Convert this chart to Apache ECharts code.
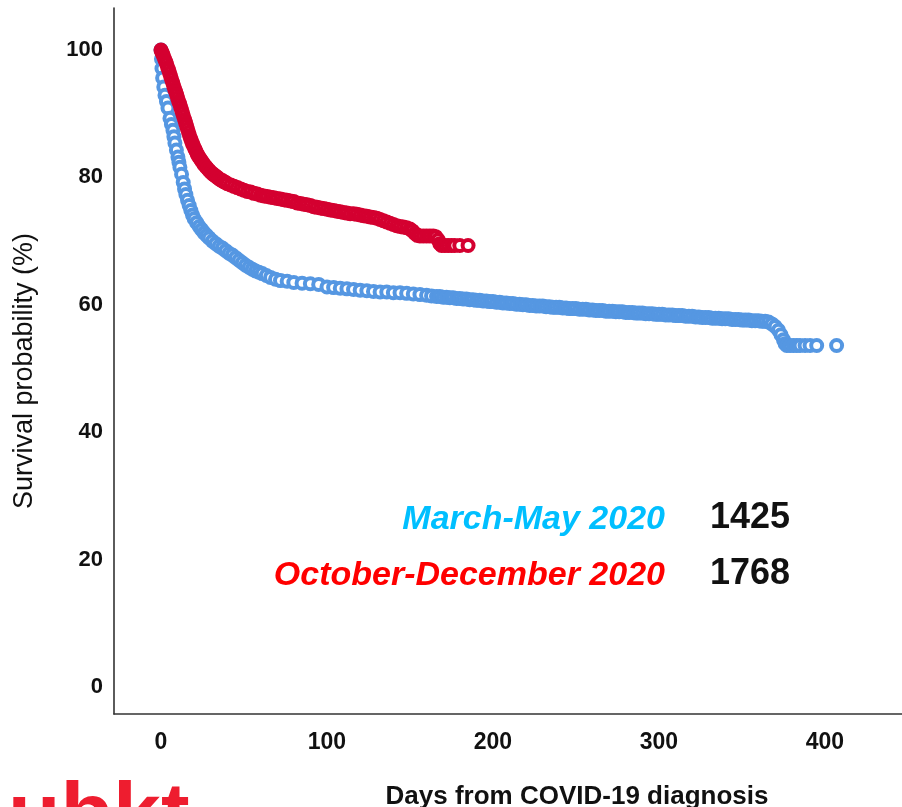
<!DOCTYPE html>
<html>
<head>
<meta charset="utf-8">
<script src="https://cdn.jsdelivr.net/npm/echarts@6/dist/echarts.min.js"></script>
<style>
  html, body { margin: 0; padding: 0; background: #fff; }
  #chart { width: 902px; height: 807px; }
</style>
</head>
<body>
<div id="chart"></div>
<script>
// tick labels
var xTicks = [0, 100, 200, 300, 400]
var yTicks = [0, 20, 40, 60, 80, 100]

// March-May 2020 (days, survival %)
var springDays = [0, 0.3, 0.6, 1, 1.7, 2.4, 3.3, 4.2, 5.4, 6.3, 7.2, 7.8, 8.4, 9.3, 10.2, 10.8, 11.4, 12.4, 13.4, 14.2,
  15, 16, 17, 18, 19, 20, 21.5, 23, 24.5, 26, 27.5, 29, 31, 33, 35, 37, 39, 41, 43, 45,
  47, 49, 51, 53, 55, 57, 59, 61, 63.5, 66, 69, 72, 76, 80, 85, 90, 95, 100, 104, 108,
  112, 116, 120, 124, 128, 132, 136, 140, 144, 148, 152, 156, 160, 163,
  166, 168, 170, 172, 174, 176, 178, 180, 182, 184, 186, 188, 190, 192, 194, 196, 198, 200,
  202, 204, 206, 208, 210, 212, 214, 216, 218, 220, 222, 224, 226, 228, 230, 232, 234, 236, 238, 240,
  242, 244, 246, 248, 250, 252, 254, 256, 258, 260, 262, 264, 266, 268, 270, 272, 274, 276, 278, 280,
  282, 284, 286, 288, 290, 292, 294, 296, 298, 300, 302, 304, 306, 308, 310, 312, 314, 316, 318, 320,
  322, 324, 326, 328, 330, 332, 334, 336, 338, 340, 342, 344, 346, 348, 350, 352, 354, 356, 358, 360,
  362, 364, 366, 368, 370, 372, 373.5, 375, 376, 377, 379, 381, 383, 385, 388, 391, 395, 407]
var springSurv = [100, 98.6, 97.1, 95.6, 94.2, 92.9, 91.9, 90.9, 89.3, 88.3, 87.4, 86.4, 85.4, 84.3, 83.2, 82.4, 81.6, 80.5, 79.2, 78.2,
  77.3, 76.4, 75.6, 74.8, 74.1, 73.5, 72.9, 72.3, 71.8, 71.3, 70.9, 70.5, 70, 69.6, 69.2, 68.9, 68.5, 68.1, 67.8, 67.4,
  67, 66.6, 66.2, 65.9, 65.6, 65.3, 65.1, 64.9, 64.6, 64.3, 64, 63.8, 63.7, 63.5, 63.4, 63.3, 63.2, 62.8, 62.7, 62.6,
  62.5, 62.4, 62.3, 62.2, 62.1, 62, 62, 61.9, 61.9, 61.8, 61.7, 61.6, 61.5, 61.4,
  61.3, 61.3, 61.2, 61.2, 61.1, 61.1, 61.0, 61.0, 60.9, 60.9, 60.8, 60.8, 60.7, 60.7, 60.6, 60.6, 60.5, 60.5,
  60.4, 60.4, 60.3, 60.3, 60.2, 60.2, 60.1, 60.1, 60.0, 60.0, 59.9, 59.9, 59.8, 59.8, 59.8, 59.7, 59.7, 59.6, 59.6, 59.6,
  59.5, 59.5, 59.4, 59.4, 59.4, 59.3, 59.3, 59.3, 59.2, 59.2, 59.1, 59.1, 59.1, 59.0, 59.0, 59.0, 58.9, 58.9, 58.9, 58.8,
  58.8, 58.8, 58.7, 58.7, 58.7, 58.6, 58.6, 58.6, 58.5, 58.5, 58.5, 58.4, 58.4, 58.4, 58.3, 58.3, 58.3, 58.2, 58.2, 58.2,
  58.1, 58.1, 58.0, 58.0, 58.0, 57.9, 57.9, 57.9, 57.8, 57.8, 57.8, 57.7, 57.7, 57.7, 57.6, 57.6, 57.6, 57.5, 57.5, 57.5,
  57.4, 57.4, 57.3, 57.0, 56.6, 56.0, 55.3, 54.5, 53.9, 53.6, 53.6, 53.6, 53.6, 53.6, 53.6, 53.6, 53.6, 53.6]

// October-December 2020 (days, survival %)
var autumnDays = [0, 0.5, 1, 1.6, 2.2, 2.8, 3.4, 4, 4.6, 5.2, 5.8, 6.4, 7, 7.6, 8.2, 8.8, 9.4, 10, 10.6, 11.2,
  11.8, 12.4, 13, 13.6, 14.2, 14.8, 15.4, 16, 16.6, 17.2, 17.8, 18.4, 19, 19.7, 20.4, 21.1, 21.8, 22.6, 23.4, 24.2,
  25, 26, 27, 28, 29, 30, 31, 32, 33, 34, 35, 36, 37, 38, 39, 40, 42, 44, 46, 48,
  50, 52, 54, 56, 58, 60, 62, 64, 66, 68, 70, 72, 74, 76, 78, 80, 82, 84, 86, 88,
  90, 92, 94, 96, 98, 100, 102, 104, 106, 108, 110, 112, 114, 116, 118, 120, 122, 124, 126, 128,
  130, 132, 134, 136, 138, 140, 142, 144, 146, 148, 150, 151.5, 153, 154.5, 156, 158, 160, 162, 164, 165.5,
  167, 168, 169, 171, 173, 175, 177, 180, 185]
var autumnSurv = [100, 99.7, 99.4, 99, 98.6, 98.2, 97.8, 97.3, 96.9, 96.4, 95.9, 95.4, 94.9, 94.4, 93.9, 93.5, 93, 92.5, 92, 91.6,
  91.1, 90.6, 90.1, 89.6, 89.1, 88.6, 88.1, 87.6, 87.1, 86.6, 86.1, 85.7, 85.3, 84.9, 84.5, 84.1, 83.7, 83.3, 83.0, 82.7,
  82.4, 82.0, 81.7, 81.4, 81.1, 80.8, 80.6, 80.4, 80.2, 80.0, 79.8, 79.6, 79.5, 79.3, 79.2, 79.0, 78.8, 78.6, 78.4, 78.2,
  78.0, 77.8, 77.7, 77.5, 77.4, 77.2, 77.1, 77.0, 76.9, 76.8, 76.7, 76.6, 76.5, 76.4, 76.3, 76.2, 76.0, 75.9, 75.8, 75.7,
  75.6, 75.4, 75.3, 75.2, 75.1, 75.0, 74.9, 74.8, 74.7, 74.6, 74.5, 74.4, 74.3, 74.3, 74.2, 74.1, 74.0, 73.9, 73.8, 73.7,
  73.6, 73.4, 73.2, 73.0, 72.8, 72.6, 72.4, 72.3, 72.2, 72.1, 71.9, 71.6, 71.2, 70.9, 70.8, 70.8, 70.8, 70.8, 70.8, 70.7,
  70.2, 69.6, 69.3, 69.3, 69.3, 69.3, 69.3, 69.3, 69.3]

var legendNames = ['March-May 2020', 'October-December 2020']
var legendCounts = ['1425', '1768']

function pairs (xs, ys) {
  return xs.map(function (x, i) { return [x, ys[i]] })
}

var chart = echarts.init(document.getElementById('chart'))
var font = '"Liberation Sans", Arial, sans-serif'

chart.setOption({
  animation: false,
  backgroundColor: '#fff',
  grid: {
    left: 114,
    right: 0,
    top: 8,
    bottom: 93
  },
  xAxis: {
    type: 'value',
    min: -28.3,
    max: 446.4,
    axisLine: { show: true, onZero: false, lineStyle: { color: '#333', width: 1.6 } },
    axisTick: { show: false },
    splitLine: { show: false },
    axisLabel: {
      customValues: xTicks,
      margin: 17,
      fontFamily: font,
      fontWeight: 'bold',
      fontSize: 23,
      color: '#111'
    }
  },
  yAxis: {
    type: 'value',
    min: -4.25,
    max: 106.6,
    axisLine: { show: true, onZero: false, lineStyle: { color: '#333', width: 1.6 } },
    axisTick: { show: false },
    splitLine: { show: false },
    axisLabel: {
      customValues: yTicks,
      margin: 11,
      fontFamily: font,
      fontWeight: 'bold',
      fontSize: 22,
      color: '#111'
    }
  },
  series: [
    {
      name: legendNames[0],
      type: 'scatter',
      symbol: 'circle',
      symbolSize: 11,
      itemStyle: { color: '#fff', borderColor: '#5597e2', borderWidth: 4, opacity: 1 },
      emphasis: { disabled: true },
      data: pairs(springDays, springSurv)
    },
    {
      name: legendNames[1],
      type: 'scatter',
      symbol: 'circle',
      symbolSize: 11,
      itemStyle: { color: '#fff', borderColor: '#d40030', borderWidth: 4, opacity: 1 },
      emphasis: { disabled: true },
      data: pairs(autumnDays, autumnSurv)
    }
  ],
  graphic: [
    {
      type: 'text',
      x: 25, y: 371, rotation: Math.PI / 2,
      style: { text: 'Survival probability (%)', font: 'normal 27px ' + font, fill: '#111', textAlign: 'center', textVerticalAlign: 'middle' }
    },
    {
      type: 'text', x: 577, y: 797,
      style: { text: 'Days from COVID-19 diagnosis', font: 'bold 26px ' + font, fill: '#111', textAlign: 'center', textVerticalAlign: 'middle' }
    },
    {
      type: 'text', x: 665, y: 520,
      style: { text: legendNames[0], font: 'italic bold 34px ' + font, fill: '#00bfff', textAlign: 'right', textVerticalAlign: 'middle' }
    },
    {
      type: 'text', x: 665, y: 576,
      style: { text: legendNames[1], font: 'italic bold 34px ' + font, fill: '#ff0000', textAlign: 'right', textVerticalAlign: 'middle' }
    },
    {
      type: 'text', x: 710, y: 518,
      style: { text: legendCounts[0], font: 'bold 36px ' + font, fill: '#111', textAlign: 'left', textVerticalAlign: 'middle' }
    },
    {
      type: 'text', x: 710, y: 574,
      style: { text: legendCounts[1], font: 'bold 36px ' + font, fill: '#111', textAlign: 'left', textVerticalAlign: 'middle' }
    },
    {
      type: 'text', x: 8, y: 861,
      style: { text: 'ubkt', font: 'bold 86px ' + font, fill: '#ee1d2f', textAlign: 'left', textVerticalAlign: 'bottom' }
    }
  ]
})
</script>
</body>
</html>
